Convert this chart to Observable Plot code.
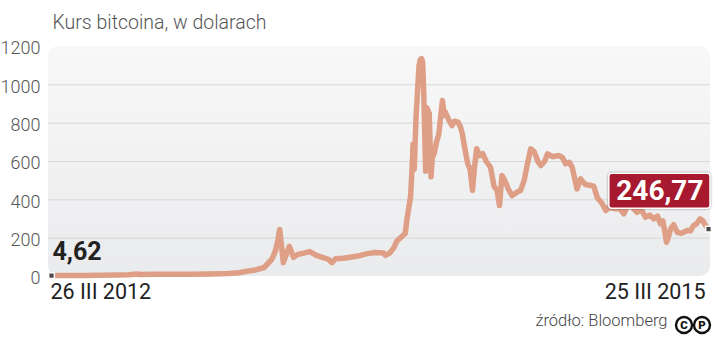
<!DOCTYPE html>
<html><head><meta charset="utf-8">
<script src="https://cdn.jsdelivr.net/npm/d3@7"></script>
<script src="https://cdn.jsdelivr.net/npm/@observablehq/plot@0.6"></script>
<style>
html,body{margin:0;padding:0;background:#fff;}
#chart{position:relative;width:720px;height:337px;overflow:hidden;}
#chart svg{font-family:Roboto,"Noto Sans",sans-serif;overflow:visible;}
</style></head><body><div id="chart"></div>
<script>
const title = "Kurs bitcoina, w dolarach";
const source = "źródło: Bloomberg";
const startLabel = "26 III 2012";
const endLabel = "25 III 2015";
const firstValueLabel = "4,62";
const lastValueLabel = "246,77";
const yTicks = [0, 200, 400, 600, 800, 1000, 1200];
const gridValues = [200, 400, 600, 800, 1000];

const dates = [
"2012-03-26","2012-04-20","2012-05-20","2012-06-15","2012-07-15","2012-08-01","2012-08-16","2012-08-20",
"2012-09-15","2012-10-15","2012-11-15","2012-12-15","2013-01-15","2013-02-01","2013-02-15","2013-03-01",
"2013-03-15","2013-03-28","2013-04-03","2013-04-07","2013-04-10","2013-04-16","2013-04-22","2013-04-26",
"2013-05-03","2013-05-10","2013-05-20","2013-05-30","2013-06-10","2013-06-20","2013-06-30","2013-07-06",
"2013-07-12","2013-07-25","2013-08-05","2013-08-20","2013-09-01","2013-09-15","2013-09-30","2013-10-03",
"2013-10-10","2013-10-17","2013-10-22","2013-10-29","2013-11-05","2013-11-08","2013-11-11","2013-11-14",
"2013-11-17","2013-11-18","2013-11-20","2013-11-23","2013-11-28","2013-11-30","2013-12-02","2013-12-04",
"2013-12-06","2013-12-09","2013-12-11","2013-12-15","2013-12-18","2013-12-20","2013-12-23","2013-12-27",
"2013-12-31","2014-01-06","2014-01-09","2014-01-11","2014-01-16","2014-01-22","2014-01-26","2014-02-01",
"2014-02-05","2014-02-08","2014-02-11","2014-02-17","2014-02-21","2014-02-25","2014-02-28","2014-03-04",
"2014-03-09","2014-03-14","2014-03-20","2014-03-27","2014-04-02","2014-04-07","2014-04-11","2014-04-15",
"2014-04-20","2014-04-25","2014-05-02","2014-05-10","2014-05-16","2014-05-22","2014-05-27","2014-06-02",
"2014-06-08","2014-06-14","2014-06-19","2014-06-25","2014-06-30","2014-07-08","2014-07-19","2014-07-25",
"2014-07-30","2014-08-05","2014-08-10","2014-08-18","2014-08-24","2014-09-01","2014-09-10","2014-09-15",
"2014-09-21","2014-09-28","2014-10-05","2014-10-10","2014-10-21","2014-10-28","2014-11-04","2014-11-12",
"2014-11-20","2014-11-26","2014-12-03","2014-12-10","2014-12-17","2014-12-24","2014-12-30","2015-01-04",
"2015-01-08","2015-01-12","2015-01-14","2015-01-17","2015-01-21","2015-01-26","2015-02-01","2015-02-08",
"2015-02-17","2015-02-23","2015-02-28","2015-03-05","2015-03-11","2015-03-16","2015-03-20","2015-03-25"
];
const values = [
4.62,5.0,5.1,6.4,8.0,9.5,13.5,10.0,
11.8,11.8,11.2,13.4,15.5,20,27,34,
47,90,135,190,245,72,125,158,
100,115,122,130,110,100,90,72,
92,95,100,108,118,125,122,110,
122,150,185,205,225,300,360,420,
600,690,560,830,1100,1130,1137,1120,
940,550,880,850,520,620,640,700,
745,918,840,857,820,787,810,805,
780,745,690,589,560,449,560,667,
630,641,600,570,470,449,370,527,
500,460,422,440,449,500,580,666,
650,600,579,600,640,625,631,620,
588,596,570,457,509,480,475,470,
410,385,344,360,353,355,327,380,
355,335,350,309,320,301,315,275,
290,220,179,205,249,270,231,225,
240,238,266,275,301,290,266,246.77
];

const parse = d3.utcParse("%Y-%m-%d");
const data = dates.map((d, i) => ({date: parse(d), value: values[i]}));
const first = data[0], last = data[data.length - 1];

const W = 720, H = 337, mT = 46, mB = 61, mL = 48, mR = 10;
const FONT = "Roboto, 'Noto Sans', sans-serif";

const ctx = document.createElement("canvas").getContext("2d");
function textWidth(s, size, weight) {
  ctx.font = `${weight} ${size}px Roboto`;
  return ctx.measureText(s).width;
}

const lvSize = 28, lvDx = -5, lvDy = -38;

const plot = Plot.plot({
  width: W, height: H,
  marginTop: mT, marginBottom: mB, marginLeft: mL, marginRight: mR,
  insetLeft: 3, insetRight: 2,
  x: {type: "utc", domain: [first.date, last.date], axis: null},
  y: {domain: [0, 1200], axis: null},
  style: {fontFamily: FONT, background: "transparent"},
  marks: [
    Plot.rect([{}], {x1: () => first.date, x2: () => last.date, y1: () => 0, y2: () => 1200,
      insetLeft: -3, insetRight: -2, rx: 10, fill: "url(#panelGrad)"}),
    Plot.ruleY(gridValues, {stroke: "#d7d7d7", strokeWidth: 1}),
    Plot.axisY({ticks: yTicks, tickSize: 0, tickPadding: 8, tickFormat: d => String(d),
      fontSize: 18, fontWeight: 300, fill: "#555", dy: 2, label: null}),
    Plot.line(data, {x: "date", y: "value", stroke: "#df9f86", strokeWidth: 5.5,
      strokeLinejoin: "round", strokeLinecap: "round"}),
    Plot.dot([first, last], {x: "date", y: "value", symbol: "square", r: 3.2,
      fill: "#4a4a4a", stroke: "#fff", strokeWidth: 1.5}),
    Plot.text([first], {x: "date", y: "value", text: () => firstValueLabel, textAnchor: "start",
      dx: 1, dy: -24, fontSize: 25, fontWeight: 700, fill: "#222"}),
    Plot.text([first], {x: "date", y: () => 0, text: () => startLabel, textAnchor: "start",
      dx: -1, dy: 16, fontSize: 21.5, fill: "#222"}),
    Plot.text([last], {x: "date", y: () => 0, text: () => endLabel, textAnchor: "end",
      dx: -3, dy: 16, fontSize: 21.5, fill: "#222"}),
    Plot.text([last], {x: "date", y: "value", text: () => lastValueLabel, textAnchor: "end",
      dx: lvDx, dy: lvDy, fontSize: lvSize, fontWeight: 700, fill: "#fff"}),
    Plot.text([title], {frameAnchor: "top-left", textAnchor: "start", dx: 4, dy: -31,
      fontSize: 19.5, fontWeight: 300, fill: "#555"}),
    Plot.text([source], {frameAnchor: "bottom-right", textAnchor: "end", dx: -43, dy: 49,
      fontSize: 16.5, fontWeight: 300, fill: "#444"})
  ]
});

document.getElementById("chart").appendChild(plot);
const svg = d3.select(plot);

// panel gradient
const defs = svg.insert("defs", ":first-child");
const grad = defs.append("linearGradient").attr("id", "panelGrad")
  .attr("x1", 0).attr("y1", 0).attr("x2", 0).attr("y2", 1);
grad.append("stop").attr("offset", "0%").attr("stop-color", "#f8f8f8");
grad.append("stop").attr("offset", "100%").attr("stop-color", "#eaebed");

// label box behind the last value, positioned from the plot's scales
try {
  const xs = plot.scale("x"), ys = plot.scale("y");
  const px = xs.apply(last.date), py = ys.apply(last.value);
  const lvW = textWidth(lastValueLabel, lvSize, 700);
  const pad = 7, bh = 35;
  const right = px + lvDx + pad, cyb = py + lvDy;
  const lvNode = svg.selectAll("text").filter(function () { return this.textContent === lastValueLabel; }).node();
  let markG = lvNode;
  while (markG && markG.parentNode !== plot) markG = markG.parentNode;
  svg.insert("rect", () => markG)
    .attr("x", right - lvW - 2 * pad).attr("y", cyb - bh / 2)
    .attr("width", lvW + 2 * pad).attr("height", bh)
    .attr("rx", 3).attr("fill", "#a6192e").attr("stroke", "#fff").attr("stroke-width", 1.5)
    .style("filter", "drop-shadow(0 0 1px rgba(0,0,0,0.4))");
} catch (e) { console.error(e); }

// CC icons after the source
const srcRight = W - mR - 43;
const cy = H - mB + 49;
const icons = ["C", "P"];
const ig = svg.append("g");
icons.forEach((ch, i) => {
  const cx = srcRight + 17 + i * 18;
  ig.append("circle").attr("cx", cx).attr("cy", cy).attr("r", 8)
    .attr("fill", "#fff").attr("stroke", "#111").attr("stroke-width", 2.4);
  ig.append("text").attr("x", cx).attr("y", cy).attr("dy", "0.36em")
    .attr("text-anchor", "middle").attr("font-size", 11.5).attr("font-weight", 900)
    .attr("font-family", FONT).attr("fill", "#111").text(ch);
});
</script></body></html>
